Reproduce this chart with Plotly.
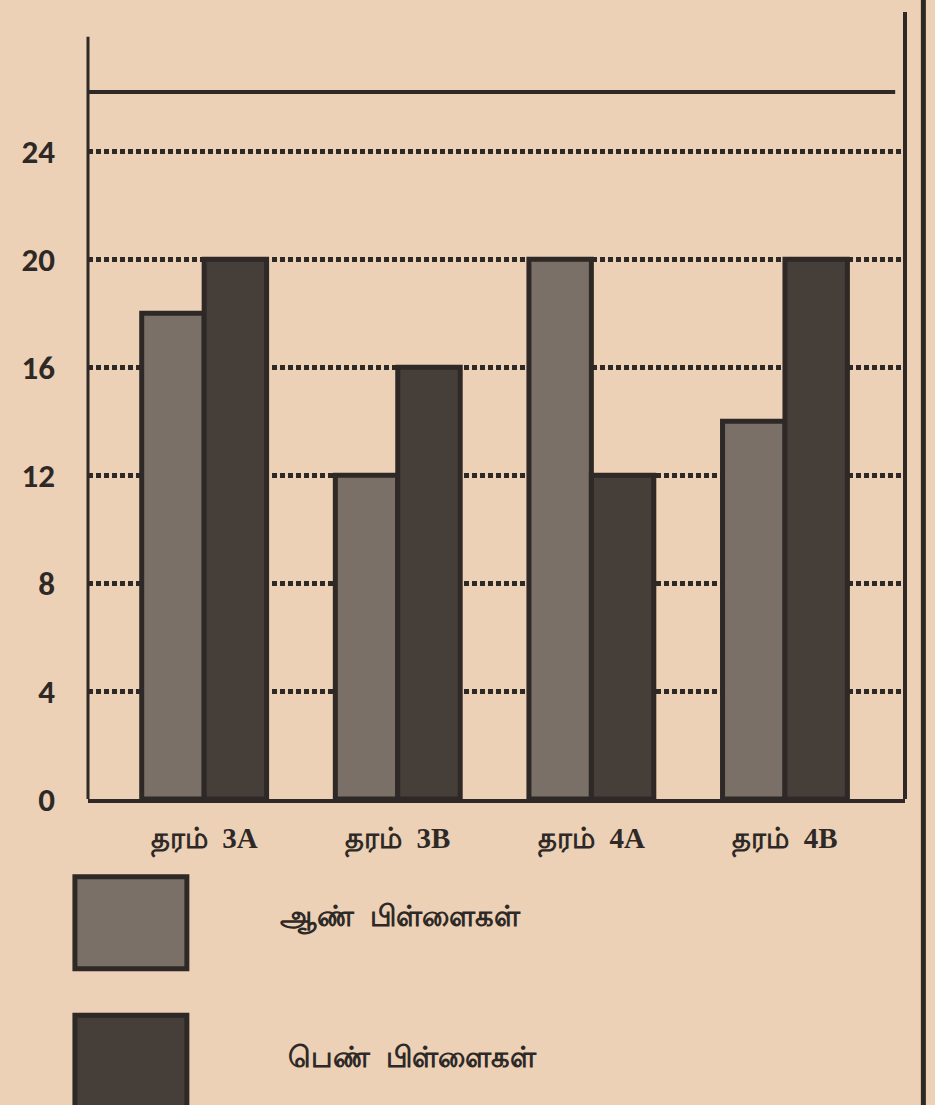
import plotly.graph_objects as go

categories = ["தரம்  3A", "தரம்  3B", "தரம்  4A", "தரம்  4B"]
boys = [18, 12, 20, 14]
girls = [20, 16, 12, 20]
series_names = ["ஆண்  பிள்ளைகள்", "பெண்  பிள்ளைகள்"]
y_ticks = [0, 4, 8, 12, 16, 20, 24]

paper_bg = "#ecd1b7"
ink = "#2e2926"
boy_fill = "#7b7067"
girl_fill = "#463e39"

fig = go.Figure()
fig.add_trace(go.Bar(x=categories, y=boys, name=series_names[0],
                     marker=dict(color=boy_fill, line=dict(color=ink, width=5)),
                     showlegend=False))
fig.add_trace(go.Bar(x=categories, y=girls, name=series_names[1],
                     marker=dict(color=girl_fill, line=dict(color=ink, width=5)),
                     showlegend=False))

fig.update_layout(
    width=935, height=1105,
    paper_bgcolor=paper_bg, plot_bgcolor=paper_bg,
    margin=dict(l=88, r=30, t=92, b=306),
    barmode="group", bargap=0.355, bargroupgap=0.0,
    font=dict(family="Carlito, Liberation Sans", color=ink),
)
fig.update_yaxes(
    range=[0, 26.2], tickvals=y_ticks, ticktext=[str(v) for v in y_ticks],
    showgrid=True, gridcolor=ink, gridwidth=5, griddash="5px,3px",
    zeroline=False, showline=False, ticks="",
    tickfont=dict(size=33, family="Carlito, Liberation Sans", color=ink, weight="bold"),
    ticklabelstandoff=32,
)
fig.update_xaxes(
    range=[-0.6, 3.62],
    showgrid=False, zeroline=False, showline=True, linecolor=ink, linewidth=4,
    ticks="", tickfont=dict(size=29, family="Liberation Serif", color=ink, weight="bold"),
    ticklabelstandoff=10,
)

shapes = [
    # left axis extending above the plot
    dict(type="line", xref="paper", yref="paper", x0=0, x1=0, y0=0, y1=1.078,
         line=dict(color=ink, width=3)),
    # top solid line
    dict(type="line", xref="paper", yref="paper", x0=0, x1=0.988, y0=1, y1=1,
         line=dict(color=ink, width=4)),
    # right frame line
    dict(type="line", xref="paper", yref="paper", x0=1.0, x1=1.0, y0=0.0, y1=1.113,
         line=dict(color=ink, width=4)),
    # page edge
    dict(type="line", xref="paper", yref="paper", x0=1.0225, x1=1.0225, y0=-0.44, y1=1.14,
         line=dict(color=ink, width=5)),
    # legend swatches
    dict(type="rect", xref="paper", yref="paper", x0=-0.016, x1=0.121, y0=-0.240, y1=-0.110,
         fillcolor=boy_fill, line=dict(color=ink, width=5)),
    dict(type="rect", xref="paper", yref="paper", x0=-0.016, x1=0.121, y0=-0.44, y1=-0.306,
         fillcolor=girl_fill, line=dict(color=ink, width=5)),
]
fig.update_layout(shapes=shapes)

legend_font = dict(size=29, family="Liberation Sans", color=ink, weight="bold")
fig.add_annotation(xref="paper", yref="paper", x=0.382, y=-0.167, text=series_names[0],
                   showarrow=False, font=legend_font, xanchor="center", yanchor="middle")
fig.add_annotation(xref="paper", yref="paper", x=0.397, y=-0.365, text=series_names[1],
                   showarrow=False, font=legend_font, xanchor="center", yanchor="middle")

fig.write_html("out.html", config={"displayModeBar": False},
               post_script="document.body.style.margin='0';document.body.style.background='%s';" % paper_bg)
